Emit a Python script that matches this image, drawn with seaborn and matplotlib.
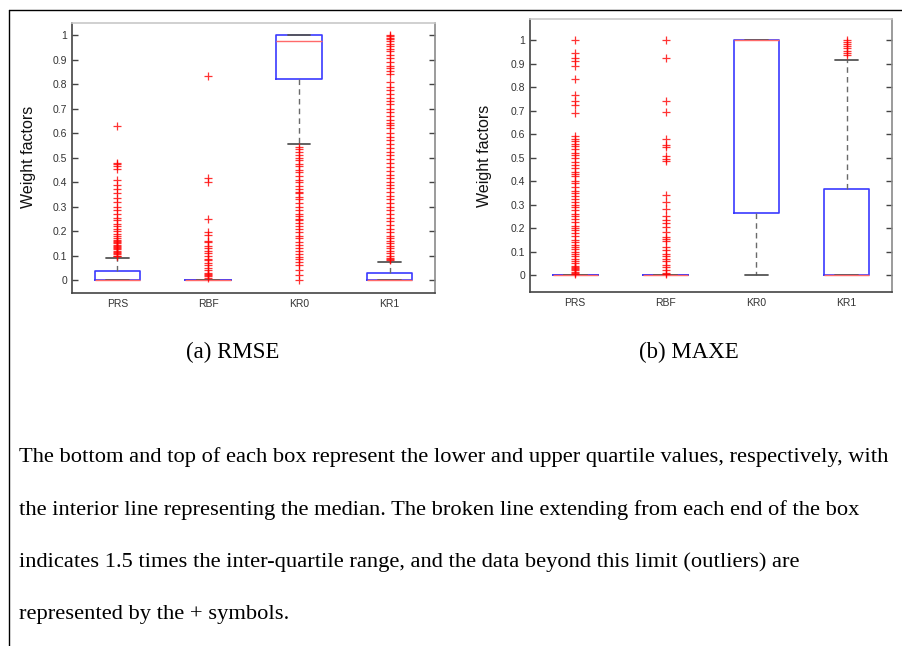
import numpy as np
import pandas as pd
import matplotlib
matplotlib.use("Agg")
import matplotlib.pyplot as plt
from matplotlib.lines import Line2D
import seaborn as sns

# ---------------- data ----------------
methods = ["PRS", "RBF", "KR0", "KR1"]

# (a) RMSE box statistics
rmse_q1 = [0.0, 0.0, 0.82, 0.0]
rmse_med = [0.0, 0.0, 0.978, 0.0]
rmse_q3 = [0.037, 0.0, 1.0, 0.03]
rmse_whislo = [0.0, 0.0, 0.555, 0.0]
rmse_whishi = [0.091, 0.0, 1.0, 0.072]

rmse_out_prs = [0.63, 0.48, 0.475, 0.465, 0.455, 0.41, 0.39, 0.37, 0.355, 0.335,
                0.32, 0.30, 0.285, 0.27, 0.255, 0.245, 0.23, 0.22, 0.21, 0.20,
                0.19, 0.18, 0.17, 0.165, 0.16, 0.155, 0.15, 0.145, 0.14, 0.135,
                0.13, 0.125, 0.12, 0.115, 0.11, 0.105, 0.10, 0.097]
rmse_out_rbf = [0.835, 0.415, 0.40, 0.25, 0.195, 0.185, 0.16, 0.155, 0.14, 0.13,
                0.12, 0.11, 0.10, 0.085, 0.08, 0.07, 0.06, 0.05, 0.04, 0.03,
                0.025, 0.02, 0.015, 0.01]
rmse_out_kr0 = [0.545, 0.535, 0.525, 0.51, 0.50, 0.49, 0.475, 0.465, 0.45, 0.44,
                0.425, 0.41, 0.40, 0.385, 0.37, 0.36, 0.355, 0.34, 0.33, 0.315,
                0.30, 0.285, 0.27, 0.26, 0.25, 0.245, 0.235, 0.22, 0.21, 0.195,
                0.18, 0.17, 0.155, 0.145, 0.13, 0.12, 0.105, 0.095, 0.085, 0.075,
                0.06, 0.04, 0.02, 0.0]
rmse_out_kr1 = [1.0, 0.995, 0.99, 0.985, 0.975, 0.965, 0.955, 0.945, 0.935, 0.92,
                0.905, 0.89, 0.875, 0.865, 0.855, 0.84, 0.81, 0.79, 0.775, 0.76,
                0.745, 0.73, 0.72, 0.70, 0.685, 0.67, 0.655, 0.64, 0.635, 0.62,
                0.60, 0.585, 0.57, 0.555, 0.54, 0.525, 0.51, 0.495, 0.48, 0.46,
                0.445, 0.43, 0.415, 0.40, 0.39, 0.375, 0.36, 0.345, 0.33, 0.315,
                0.30, 0.285, 0.27, 0.255, 0.24, 0.225, 0.21, 0.195, 0.18, 0.17,
                0.16, 0.15, 0.14, 0.13, 0.12, 0.11, 0.10, 0.09, 0.085, 0.08]

# (b) MAXE box statistics
maxe_q1 = [0.0, 0.0, 0.265, 0.0]
maxe_med = [0.0, 0.0, 1.0, 0.0]
maxe_q3 = [0.0, 0.0, 1.0, 0.367]
maxe_whislo = [0.0, 0.0, 0.0, 0.0]
maxe_whishi = [0.0, 0.0, 1.0, 0.916]

maxe_out_prs = [1.0, 0.945, 0.925, 0.91, 0.89, 0.835, 0.765, 0.74, 0.725, 0.69,
                0.59, 0.58, 0.57, 0.56, 0.55, 0.535, 0.52, 0.51, 0.50, 0.48,
                0.47, 0.455, 0.44, 0.43, 0.42, 0.40, 0.39, 0.375, 0.36, 0.35,
                0.335, 0.325, 0.31, 0.30, 0.29, 0.275, 0.26, 0.25, 0.24, 0.225,
                0.21, 0.20, 0.19, 0.18, 0.165, 0.15, 0.14, 0.13, 0.12, 0.11,
                0.10, 0.09, 0.08, 0.07, 0.06, 0.05, 0.04, 0.035, 0.03, 0.025,
                0.02, 0.015, 0.01, 0.005]
maxe_out_rbf = [1.0, 0.925, 0.74, 0.695, 0.58, 0.555, 0.545, 0.505, 0.495, 0.485,
                0.34, 0.31, 0.28, 0.25, 0.235, 0.22, 0.205, 0.185, 0.16, 0.155,
                0.145, 0.12, 0.105, 0.09, 0.08, 0.07, 0.06, 0.045, 0.035, 0.02,
                0.01, 0.005]
maxe_out_kr0 = []
maxe_out_kr1 = [1.0, 0.99, 0.985, 0.975, 0.965, 0.955, 0.945, 0.935]

ytick_vals = [0, 0.1, 0.2, 0.3, 0.4, 0.5, 0.6, 0.7, 0.8, 0.9, 1.0]
ytick_labels = ["0", "0.1", "0.2", "0.3", "0.4", "0.5", "0.6", "0.7", "0.8", "0.9", "1"]
ylabel = "Weight factors"
captions = ["(a) RMSE", "(b) MAXE"]
paragraph = [
    "The bottom and top of each box represent the lower and upper quartile values, respectively, with",
    "the interior line representing the median. The broken line extending from each end of the box",
    "indicates 1.5 times the inter-quartile range, and the data beyond this limit (outliers) are",
    "represented by the + symbols.",
]

# ---------------- drawing ----------------
sns.set_style("white")
plt.rcParams["font.family"] = ["Liberation Sans", "DejaVu Sans"]

fig = plt.figure(figsize=(9.03, 6.46), dpi=100)

ax_l = fig.add_axes([72 / 903, 1 - 293 / 646, 363 / 903, 270 / 646])
ax_r = fig.add_axes([530 / 903, 1 - 292 / 646, 362 / 903, 273 / 646])


def draw_panel(ax, q1, med, q3, wlo, whi, outs, ylim, label_xy):
    stats = [dict(label=m, q1=a, med=b, q3=c, whislo=d, whishi=e, fliers=[])
             for m, a, b, c, d, e in zip(methods, q1, med, q3, wlo, whi)]
    ax.bxp(stats, positions=range(len(methods)), widths=0.5, capwidths=0.25,
           showfliers=False,
           boxprops=dict(color="#3a3aff", linewidth=1.2),
           medianprops=dict(color="#ff6a6a", linewidth=1.0),
           whiskerprops=dict(color="#6a6a6a", linewidth=1.0, linestyle=(0, (4, 3))),
           capprops=dict(color="#555555", linewidth=1.3))
    df = pd.DataFrame({
        "method": [m for m, vals in zip(methods, outs) for _ in vals],
        "value": [v for vals in outs for v in vals],
    })
    df["pos"] = df["method"].map({m: i for i, m in enumerate(methods)})
    sns.scatterplot(data=df, x="pos", y="value", ax=ax, marker="+",
                    color="red", s=36, linewidth=0.9, alpha=0.8, legend=False,
                    zorder=3)
    ax.set_xlim(-0.5, len(methods) - 0.5)
    ax.set_ylim(*ylim)
    ax.set_xticks(range(len(methods)))
    ax.set_xticklabels(methods)
    ax.set_yticks(ytick_vals)
    ax.set_yticklabels(ytick_labels)
    ax.set_xlabel("")
    ax.set_ylabel(ylabel, fontsize=11.5, color="#111111")
    ax.yaxis.set_label_coords(*label_xy)
    ax.tick_params(axis="y", direction="in", length=4, width=1.0, color="#444444",
                   left=True, right=True, labelsize=7.5, labelcolor="#333333", pad=3.5)
    ax.tick_params(axis="x", length=0, labelsize=7.5, labelcolor="#333333", pad=4)
    for side, col in [("left", "#444444"), ("bottom", "#444444"),
                      ("top", "#c8c8c8"), ("right", "#8a8a8a")]:
        ax.spines[side].set_visible(True)
        ax.spines[side].set_color(col)
        ax.spines[side].set_linewidth(1.2)
    ax.grid(False)


draw_panel(ax_l, rmse_q1, rmse_med, rmse_q3, rmse_whislo, rmse_whishi,
           [rmse_out_prs, rmse_out_rbf, rmse_out_kr0, rmse_out_kr1],
           (-0.053, 1.05), (-0.099, 0.504))
draw_panel(ax_r, maxe_q1, maxe_med, maxe_q3, maxe_whislo, maxe_whishi,
           [maxe_out_prs, maxe_out_rbf, maxe_out_kr0, maxe_out_kr1],
           (-0.072, 1.09), (-0.105, 0.498))

# page border (top and left)
fig.add_artist(Line2D([8.5 / 903, 1.0], [1 - 9.5 / 646, 1 - 9.5 / 646],
                      transform=fig.transFigure, color="black", linewidth=1.0))
fig.add_artist(Line2D([8.5 / 903, 8.5 / 903], [0.0, 1 - 9.5 / 646],
                      transform=fig.transFigure, color="black", linewidth=1.0))

serif = ["Liberation Serif", "DejaVu Serif"]
fig.text(233 / 903, 1 - 352 / 646, captions[0], ha="center", va="center",
         fontsize=16.5, family=serif, color="black")
fig.text(689 / 903, 1 - 352 / 646, captions[1], ha="center", va="center",
         fontsize=16.5, family=serif, color="black")
for i, line in enumerate(paragraph):
    fig.text(19 / 903, 1 - (457 + 52.6 * i) / 646, line, ha="left", va="center",
             fontsize=16.2, family=serif, color="black")

fig.savefig("out.png", dpi=100, facecolor="white")
